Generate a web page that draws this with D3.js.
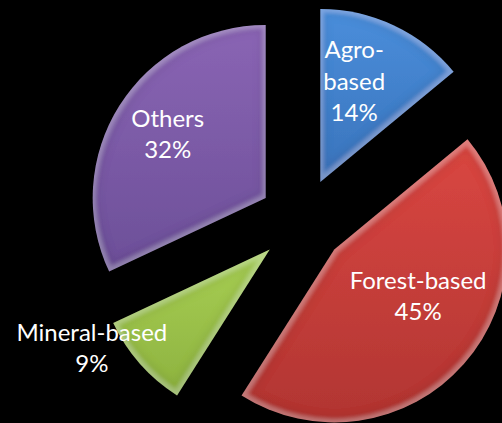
<!DOCTYPE html>
<html>
<head>
<meta charset="utf-8">
<script src="https://cdn.jsdelivr.net/npm/d3@7"></script>
<style>
  html, body { margin: 0; padding: 0; background: #000; }
  svg { display: block; }
</style>
</head>
<body>
<svg id="chart" width="502" height="423"></svg>
<script>
// ---- data ----
const categories = ["Agro-based", "Forest-based", "Mineral-based", "Others"];
const values = [14, 45, 9, 32];
const labelLines = [["Agro-", "based", "14%"], ["Forest-based", "45%"], ["Mineral-based", "9%"], ["Others", "32%"]];
const colorsTop = ["#4a8edb", "#da4742", "#a8cf55", "#8a65b4"];
const colorsBottom = ["#3a73bb", "#b13532", "#8db23f", "#6c4f98"];

// ---- layout ----
const W = 502, H = 423;
const cx = 302, cy = 221;
const R = 173;
const explode = 43;
const lineH = 31.5;
const fontSize = 24;
// label block centre offset from the slice centroid
const labelShift = [[-3, -22], [19, -10], [-113, 42], [-25, -17]];

const svg = d3.select("#chart");
svg.append("rect").attr("width", W).attr("height", H).attr("fill", "#000");

const defs = svg.append("defs");
categories.forEach((c, i) => {
  const g = defs.append("linearGradient").attr("id", "grad" + i)
    .attr("x1", 0).attr("y1", 0).attr("x2", 0).attr("y2", 1);
  g.append("stop").attr("offset", "0%").attr("stop-color", colorsTop[i]);
  g.append("stop").attr("offset", "100%").attr("stop-color", colorsBottom[i]);
});

const f = defs.append("filter").attr("id", "bevel")
  .attr("x", "-5%").attr("y", "-5%").attr("width", "110%").attr("height", "110%");
f.append("feMorphology").attr("in", "SourceAlpha").attr("operator", "erode").attr("radius", 2.5).attr("result", "er");
f.append("feGaussianBlur").attr("in", "er").attr("stdDeviation", 2).attr("result", "erb");
f.append("feComposite").attr("in", "SourceAlpha").attr("in2", "erb").attr("operator", "out").attr("result", "rim");
f.append("feFlood").attr("flood-color", "#ffffff").attr("flood-opacity", 0.16).attr("result", "wf");
f.append("feComposite").attr("in", "wf").attr("in2", "rim").attr("operator", "in").attr("result", "rimLight");
f.append("feMorphology").attr("in", "SourceAlpha").attr("operator", "erode").attr("radius", 7).attr("result", "er2");
f.append("feGaussianBlur").attr("in", "er2").attr("stdDeviation", 3).attr("result", "er2b");
f.append("feComposite").attr("in", "erb").attr("in2", "er2b").attr("operator", "out").attr("result", "band");
f.append("feFlood").attr("flood-color", "#000000").attr("flood-opacity", 0.1).attr("result", "bf");
f.append("feComposite").attr("in", "bf").attr("in2", "band").attr("operator", "in").attr("result", "bandDark");
const m = f.append("feMerge");
m.append("feMergeNode").attr("in", "SourceGraphic");
m.append("feMergeNode").attr("in", "bandDark");
m.append("feMergeNode").attr("in", "rimLight");

const pie = d3.pie().sort(null).value(d => d)(values);
const arc = d3.arc().innerRadius(0).outerRadius(R);

const slices = svg.append("g").selectAll("g").data(pie).join("g")
  .attr("transform", d => {
    const a = (d.startAngle + d.endAngle) / 2;
    return `translate(${cx + explode * Math.sin(a)},${cy - explode * Math.cos(a)})`;
  });

slices.append("path")
  .attr("d", arc)
  .attr("fill", (d, i) => `url(#grad${i})`)
  .attr("filter", "url(#bevel)");

slices.each(function (d, i) {
  const [mx, my] = arc.centroid(d);
  const lx = mx + labelShift[i][0];
  const lyc = my + labelShift[i][1];
  const lines = labelLines[i];
  const first = lyc - (lines.length - 1) * lineH / 2 + fontSize * 0.33;
  const t = d3.select(this).append("text")
    .attr("text-anchor", "middle")
    .attr("fill", "#ffffff")
    .attr("font-family", "Lato, 'Open Sans', sans-serif")
    .attr("font-size", fontSize);
  lines.forEach((ln, k) => {
    t.append("tspan").attr("x", lx).attr("y", first + k * lineH).text(ln);
  });
});
</script>
</body>
</html>
